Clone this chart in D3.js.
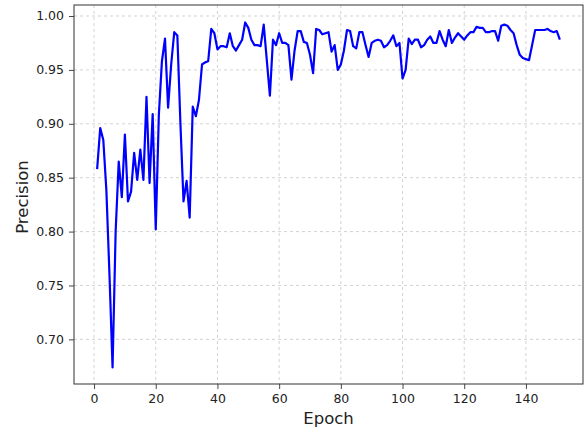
<!DOCTYPE html>
<html><head><meta charset="utf-8">
<script src="https://cdn.jsdelivr.net/npm/d3@7"></script>
<style>
html,body{margin:0;padding:0;background:#fff;}
svg{display:block;font-family:"DejaVu Sans",sans-serif;}
</style></head>
<body>
<svg id="chart" width="587" height="432"></svg>
<script>
const epochs = d3.range(1, 152);
const precision = [
0.858,0.896,0.885,0.838,0.760,0.674,0.800,0.865,0.832,0.890,
0.828,0.837,0.873,0.848,0.876,0.848,0.925,0.845,0.909,0.802,
0.908,0.958,0.979,0.915,0.955,0.985,0.982,0.900,0.828,0.847,
0.813,0.916,0.907,0.922,0.955,0.957,0.958,0.988,0.984,0.969,
0.972,0.972,0.971,0.984,0.972,0.968,0.973,0.978,0.994,0.989,
0.978,0.973,0.973,0.972,0.992,0.959,0.926,0.978,0.973,0.984,
0.975,0.975,0.973,0.941,0.968,0.986,0.986,0.976,0.975,0.964,
0.947,0.988,0.987,0.983,0.984,0.985,0.967,0.973,0.950,0.955,
0.968,0.987,0.986,0.972,0.970,0.985,0.985,0.973,0.962,0.975,
0.977,0.978,0.977,0.971,0.973,0.977,0.982,0.972,0.975,0.942,
0.950,0.979,0.974,0.978,0.978,0.971,0.973,0.978,0.981,0.975,
0.975,0.986,0.978,0.972,0.987,0.975,0.980,0.984,0.981,0.978,
0.982,0.985,0.985,0.990,0.989,0.989,0.985,0.985,0.986,0.986,
0.977,0.991,0.992,0.991,0.987,0.984,0.973,0.964,0.961,0.960,
0.959,0.973,0.987,0.987,0.987,0.987,0.988,0.986,0.985,0.986,
0.978
];
const xTicks = [0,20,40,60,80,100,120,140];
const yTicks = [0.70,0.75,0.80,0.85,0.90,0.95,1.00];
const xLabel = "Epoch", yLabel = "Precision";

const svg = d3.select("#chart");
const L = 74, R = 583, T = 5, B = 384;
const x = d3.scaleLinear().domain([-6.5, 158.5]).range([L, R]);
const y = d3.scaleLinear().domain([0.6586, 1.0102]).range([B, T]);

// grid
const grid = svg.append("g").attr("stroke","#b0b0b0").attr("stroke-width",0.8)
  .attr("stroke-dasharray","3,3").attr("opacity",0.7);
xTicks.forEach(t=>grid.append("line").attr("x1",x(t)).attr("x2",x(t)).attr("y1",T).attr("y2",B));
yTicks.forEach(t=>grid.append("line").attr("x1",L).attr("x2",R).attr("y1",y(t)).attr("y2",y(t)));

// line
const line = d3.line().x((d,i)=>x(epochs[i])).y(d=>y(d));
svg.append("path").datum(precision).attr("fill","none").attr("stroke","#0000ff")
  .attr("stroke-width",2.2).attr("stroke-linejoin","round").attr("d",line);

// axes
const xAxis = d3.axisBottom(x).tickValues(xTicks).tickSize(5).tickPadding(5).tickFormat(d3.format("d"));
const yAxis = d3.axisLeft(y).tickValues(yTicks).tickSize(5).tickPadding(5).tickFormat(d3.format(".2f"));
const gx = svg.append("g").attr("transform",`translate(0,${B})`).call(xAxis);
const gy = svg.append("g").attr("transform",`translate(${L},0)`).call(yAxis);
[gx,gy].forEach(g=>{
  g.select(".domain").remove();
  g.selectAll("text").attr("font-size",12.5).attr("fill","#222").attr("font-family","DejaVu Sans");
  g.selectAll("line").attr("stroke","#333").attr("stroke-width",0.9);
});
svg.append("rect").attr("x",L).attr("y",T).attr("width",R-L).attr("height",B-T)
  .attr("fill","none").attr("stroke","#333").attr("stroke-width",1);

svg.append("text").attr("x",(L+R)/2).attr("y",423.5).attr("text-anchor","middle")
  .attr("font-size",16.5).attr("fill","#222").text(xLabel);
svg.append("text").attr("transform",`translate(28,197) rotate(-90)`).attr("text-anchor","middle")
  .attr("font-size",16.5).attr("fill","#222").text(yLabel);
</script>
</body></html>
